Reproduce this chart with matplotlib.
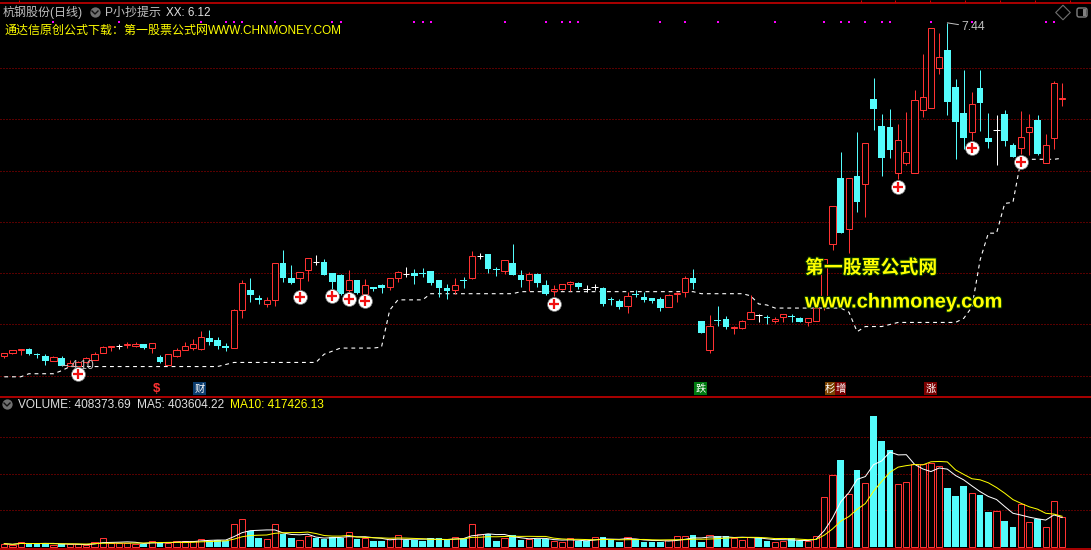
import matplotlib
matplotlib.use('Agg')
import matplotlib.pyplot as plt
import matplotlib.patheffects as pe
from matplotlib.patches import Rectangle, FancyBboxPatch
import numpy as np
import pandas as pd

plt.rcParams['font.family'] = ['Liberation Sans', 'Noto Sans CJK SC', 'DejaVu Sans']

# daily candles
open_p = [4.19,4.22,4.25,4.26,4.21,4.19,4.14,4.17,4.10,4.10,
          4.13,4.15,4.22,4.28,4.29,4.30,4.29,4.31,4.27,4.18,
          4.11,4.19,4.25,4.27,4.26,4.37,4.35,4.29,4.27,4.64,
          4.84,4.76,4.70,4.74,5.10,4.95,4.95,5.03,5.11,5.11,
          5.00,4.98,4.84,4.93,4.80,4.87,4.88,4.87,4.95,4.99,
          5.00,5.00,5.02,4.93,4.86,4.84,4.93,4.95,5.17,5.19,
          5.04,5.02,5.10,4.98,4.93,4.99,4.88,4.83,4.85,4.89,
          4.90,4.85,4.87,4.86,4.75,4.73,4.68,4.80,4.77,4.76,
          4.75,4.67,4.80,4.82,4.95,4.53,4.25,4.54,4.55,4.47,
          4.47,4.55,4.59,4.57,4.53,4.57,4.58,4.56,4.52,4.53,
          4.72,5.28,5.93,5.43,5.95,5.87,6.70,6.43,6.42,5.98,
          6.07,5.98,6.59,6.61,7.00,7.18,6.81,6.56,6.38,6.80,
          6.32,6.40,6.55,6.25,6.22,6.38,6.49,6.07,6.32,6.70]
close_p = [4.22,4.25,4.26,4.21,4.20,4.14,4.18,4.10,4.12,4.13,
           4.17,4.21,4.28,4.29,4.29,4.31,4.31,4.27,4.32,4.13,
           4.21,4.25,4.29,4.31,4.38,4.33,4.29,4.27,4.64,4.90,
           4.79,4.74,4.74,5.10,4.95,4.90,5.01,5.15,5.11,4.98,
           4.91,4.80,4.93,4.81,4.88,4.85,4.86,4.95,5.01,4.99,
           4.97,4.99,4.90,4.86,4.83,4.88,4.92,5.17,5.17,5.04,
           5.03,5.13,4.98,4.93,4.99,4.90,4.80,4.85,4.89,4.91,
           4.87,4.85,4.87,4.70,4.74,4.67,4.78,4.79,4.74,4.73,
           4.66,4.79,4.81,4.95,4.90,4.42,4.49,4.53,4.48,4.48,
           4.53,4.62,4.59,4.56,4.55,4.60,4.57,4.52,4.56,4.66,
           5.14,5.65,5.39,5.93,5.69,6.27,6.60,6.12,6.20,6.30,
           6.18,6.69,6.72,7.39,7.11,6.67,6.47,6.32,6.65,6.66,
           6.28,6.40,6.29,6.13,6.33,6.42,6.16,6.25,6.85,6.71]
high_p = [4.22,4.25,4.26,4.27,4.22,4.21,4.19,4.19,4.15,4.14,
          4.18,4.23,4.29,4.29,4.31,4.33,4.33,4.31,4.32,4.20,
          4.21,4.27,4.33,4.36,4.44,4.45,4.38,4.32,4.65,4.93,
          4.95,4.79,4.77,5.10,5.23,5.08,5.01,5.15,5.18,5.14,
          5.00,4.99,5.03,4.93,4.94,4.87,4.89,4.95,5.02,5.06,
          5.04,5.05,5.02,4.93,4.89,4.95,4.96,5.22,5.20,5.19,
          5.06,5.13,5.28,5.03,5.01,5.00,4.93,4.88,4.89,4.92,
          4.91,4.88,4.89,4.87,4.77,4.75,4.82,4.84,4.82,4.76,
          4.77,4.80,4.82,4.97,5.04,4.53,4.59,4.68,4.58,4.49,
          4.54,4.79,4.60,4.59,4.57,4.60,4.60,4.57,4.56,4.66,
          5.14,5.65,6.18,5.93,6.38,6.27,6.90,6.55,6.60,6.45,
          6.57,6.79,7.14,7.39,7.34,7.44,6.89,6.98,6.77,6.98,
          6.56,6.54,6.59,6.27,6.58,6.55,6.54,6.36,6.87,6.85]
low_p = [4.17,4.21,4.20,4.20,4.17,4.11,4.14,4.10,4.10,4.10,
         4.12,4.15,4.22,4.24,4.26,4.27,4.28,4.26,4.22,4.12,
         4.11,4.18,4.25,4.25,4.25,4.30,4.26,4.24,4.27,4.56,
         4.72,4.70,4.67,4.68,4.91,4.89,4.84,4.92,5.08,4.98,
         4.85,4.79,4.80,4.80,4.77,4.83,4.81,4.84,4.91,4.96,
         4.89,4.96,4.88,4.77,4.75,4.80,4.86,4.94,5.14,5.00,
         4.97,4.99,4.98,4.87,4.83,4.87,4.79,4.78,4.84,4.83,
         4.85,4.82,4.84,4.68,4.69,4.65,4.61,4.77,4.72,4.71,
         4.63,4.67,4.72,4.77,4.85,4.42,4.22,4.49,4.46,4.41,
         4.46,4.55,4.52,4.50,4.51,4.52,4.52,4.52,4.49,4.53,
         4.64,5.23,5.39,5.20,5.60,5.55,6.40,5.95,6.12,5.92,
         6.05,5.98,6.52,6.61,6.94,6.54,6.11,6.21,6.30,6.39,
         6.22,6.05,6.24,6.13,6.16,6.15,6.15,6.07,6.21,6.63]

# the dashed XX indicator
xx_line = [3.99,3.99,3.99,4.02,4.02,4.02,4.02,4.05,4.09,4.09,
           4.09,4.09,4.09,4.09,4.09,4.09,4.09,4.09,4.09,4.09,
           4.09,4.09,4.09,4.09,4.09,4.09,4.09,4.11,4.13,4.13,
           4.13,4.13,4.13,4.13,4.13,4.13,4.13,4.13,4.13,4.21,
           4.24,4.27,4.27,4.27,4.27,4.27,4.28,4.64,4.74,4.74,
           4.74,4.74,4.80,4.80,4.80,4.80,4.80,4.80,4.80,4.80,
           4.80,4.80,4.80,4.82,4.82,4.82,4.82,4.82,4.82,4.82,
           4.82,4.82,4.82,4.82,4.82,4.82,4.82,4.82,4.82,4.82,
           4.82,4.82,4.82,4.82,4.82,4.80,4.80,4.80,4.80,4.80,
           4.80,4.78,4.70,4.69,4.66,4.66,4.66,4.66,4.66,4.66,
           4.66,4.66,4.66,4.62,4.43,4.48,4.48,4.48,4.50,4.52,
           4.52,4.52,4.52,4.52,4.52,4.52,4.52,4.56,4.67,5.13,
           5.39,5.39,5.68,5.69,6.11,6.11,6.11,6.11,6.11,6.12]

# volume, in thousands
volume = [46,27,73,46,46,55,27,36,36,36,
          27,73,128,50,50,50,46,46,87,59,
          55,78,87,87,114,87,100,87,320,388,
          224,123,114,320,183,119,100,155,123,114,
          142,123,210,105,123,78,78,105,160,96,
          96,82,119,119,96,132,110,311,174,174,
          82,119,160,96,105,114,114,78,64,119,
          87,78,132,137,105,73,132,105,69,69,
          69,96,146,146,164,69,160,151,151,119,
          91,132,132,87,64,87,119,87,87,151,
          680,982,1192,722,1055,872,1795,1452,1329,859,
          886,1137,1137,1146,1105,808,699,836,735,712,
          480,489,356,274,585,338,379,269,626,408.37]

# doji days whose volume bar is drawn red
red_doji_days = [14, 58, 72, 121]
# magenta dots along the top, and days with a plus signal
dot_days = [6,14,24,27,28,29,33,40,41,50,51,52,61,66,68,69,70,80,83,87,94,
            100,102,103,105,107,108,113,118,127,128]
plus_days = [9, 36, 40, 42, 44, 67, 109, 118, 124]
plus_price = [4.02, 4.77, 4.78, 4.75, 4.73, 4.70, 5.84, 6.22, 6.08]

price_grid = [4.0, 4.5, 5.0, 5.5, 6.0, 6.5, 7.0]
volume_grid = [500, 1000, 1500]

RED = '#FF3232'
CYAN = '#54FCFC'
GRID = '#B00000'
BORDER = '#D00000'
GREY = '#C0C0C0'
YELLOW = '#FFFF00'
BG = '#000000'
PX = 0.72  # one pixel in points at dpi 100

x = np.arange(len(close_p))
open_a, close_a = np.array(open_p), np.array(close_p)
high_a, low_a = np.array(high_p), np.array(low_p)
up = close_a > open_a
down = close_a < open_a
doji = close_a == open_a
colors = np.where(up, RED, np.where(down, CYAN, '#FFFFFF'))

fig = plt.figure(figsize=(10.91, 5.5), dpi=100, facecolor=BG)
price_ax = fig.add_axes([0, 154 / 550, 1, 394 / 550], facecolor=BG)
vol_ax = fig.add_axes([0, 0, 1, 154 / 550], facecolor=BG)
top_ax = fig.add_axes([0, 0, 1, 1], facecolor='none')  # texts and icons, in pixels
top_ax.set_xlim(0, 1091)
top_ax.set_ylim(550, 0)
top_ax.axis('off')

xlim = (-0.524, 132.52)
price_ax.set_xlim(xlim)
price_ax.set_ylim(3.803, 7.643)
vol_ax.set_xlim(xlim)
vol_ax.set_ylim(-41, 2068)
for ax in (price_ax, vol_ax):
    ax.set_xticks([])
    ax.set_yticks([])
    for s in ax.spines.values():
        s.set_visible(False)

# price panel
for level in price_grid:
    price_ax.plot(xlim, [level, level], color=GRID, lw=PX, linestyle=(0, (1, 2)), zorder=1)
price_ax.plot(x, xx_line, color='white', lw=PX * 1.1, linestyle=(0, (3.5, 3.5)), zorder=2)
price_ax.vlines(x, low_a, high_a, colors=colors, lw=PX, zorder=3)
price_ax.bar(x[up], (close_a - open_a)[up], bottom=open_a[up], width=0.76, facecolor=BG,
             edgecolor=RED, linewidth=PX, zorder=4)
price_ax.bar(x[down], (open_a - close_a)[down], bottom=close_a[down], width=0.8, color=CYAN,
             linewidth=0, zorder=4)
price_ax.hlines(close_a[doji], x[doji] - 0.4, x[doji] + 0.4, colors='white', lw=PX, zorder=4)
price_ax.scatter(dot_days, [7.45] * len(dot_days), marker='s', s=4.5, color='#FF00FF', linewidths=0, zorder=5)

# plus signals
price_ax.scatter(plus_days, plus_price, s=100, color='white', edgecolors='#707070', linewidths=0.5, zorder=6)
price_ax.scatter(plus_days, plus_price, s=50, marker='+', color='#F01010', linewidths=1.6, zorder=7)

# high and low labels
hi = int(np.argmax(high_a))
price_ax.annotate('%.2f' % high_a[hi], xy=(hi, high_a[hi]), xytext=(hi + 1.7, high_a[hi] - 0.04),
                  color=GREY, fontsize=8.8, va='center', zorder=8,
                  arrowprops=dict(arrowstyle='-', color=GREY, lw=PX, shrinkA=0, shrinkB=0))
lo = int(np.argmin(low_a))
price_ax.annotate('%.2f' % low_a[lo], xy=(lo, low_a[lo]), xytext=(lo + 1.1, low_a[lo]),
                  color=GREY, fontsize=8.8, va='center', zorder=5,
                  arrowprops=dict(arrowstyle='-', color=GREY, lw=PX, shrinkA=0, shrinkB=0))

# volume panel
vol = np.array(volume)
vol_red = up.copy()
vol_red[red_doji_days] = True
for level in volume_grid:
    vol_ax.plot(xlim, [level, level], color=GRID, lw=PX, linestyle=(0, (1, 2)), zorder=1)
vol_ax.bar(x[~vol_red], vol[~vol_red], width=0.8, color=CYAN, linewidth=0, zorder=2)
vol_ax.bar(x[vol_red], vol[vol_red], width=0.76, facecolor=BG, edgecolor=RED, linewidth=PX, zorder=3)
ma5 = pd.Series(vol).rolling(5, min_periods=1).mean()
ma10 = pd.Series(vol).rolling(10, min_periods=1).mean()
vol_ax.plot(x, ma5, color='white', lw=PX, zorder=4)
vol_ax.plot(x, ma10, color=YELLOW, lw=PX, zorder=5)

# frame lines
top_ax.hlines([2.5, 396.5, 548.5], 0, 1091, colors=BORDER, lw=PX * 1.6)
top_ax.vlines([861, 895, 930, 965, 1000, 1035, 1070, 19], 0, 2, colors=BORDER, lw=PX)

# header texts
top_ax.text(3, 12.5, '杭钢股份(日线)', color=GREY, fontsize=8.64, va='center')
top_ax.text(105, 12.5, 'P小抄提示', color=GREY, fontsize=8.64, va='center')
top_ax.text(166, 12.5, 'XX: 6.12', color='#E0E0E0', fontsize=8.4, va='center')
top_ax.text(4, 30.5, '通达信原创公式下载：第一股票公式网', color=YELLOW, fontsize=8.64, va='center')
top_ax.text(208, 30.5, 'WWW.CHNMONEY.COM', color=YELLOW, fontsize=8.45, va='center')
top_ax.text(18, 405, 'VOLUME: 408373.69', color='#E0E0E0', fontsize=8.6, va='center')
top_ax.text(137, 405, 'MA5: 403604.22', color='#E0E0E0', fontsize=8.6, va='center')
top_ax.text(230, 405, 'MA10: 417426.13', color=YELLOW, fontsize=8.6, va='center')

# round buttons with a chevron
for cx, cy in [(95, 12), (7, 404)]:
    top_ax.scatter([cx], [cy], s=55, color='#707070', linewidths=0)
    top_ax.plot([cx - 3, cx, cx + 3], [cy - 1, cy + 2, cy - 1], color='#111111', lw=1)

# icons in the top right corner
top_ax.scatter([1063], [12.5], marker='D', s=55, facecolors='none', edgecolors='#707070', linewidths=0.8)
top_ax.add_patch(FancyBboxPatch((1077, 8), 10, 9, boxstyle='round,pad=0,rounding_size=2', facecolor='none',
                                edgecolor='#808080', linewidth=1))
top_ax.add_patch(Rectangle((1083, 9), 3, 7, color='#808080', linewidth=0))

# signal tags above the volume panel
top_ax.text(156.5, 389, '$', color=RED, fontsize=9.5, fontweight='bold', ha='center', va='center')
for left, width, color, label in [(193, 13, '#0B3C6E', '财'), (694, 13, '#007A10', '跌'),
                                  (825, 10, '#7A4200', '杉'), (835, 11, '#7A0000', '增'),
                                  (924, 13, '#7A0000', '涨')]:
    top_ax.add_patch(Rectangle((left, 382), width, 13, color=color, linewidth=0))
    top_ax.text(left + width / 2, 388.5, label, color='white', fontsize=7.4, ha='center', va='center')

# watermark
shadow = [pe.withStroke(linewidth=1.5, foreground='#003000')]
top_ax.text(805, 268, '第一股票公式网', color=YELLOW, fontsize=13.6, fontweight='bold',
            family='Noto Sans CJK SC', va='center', path_effects=shadow)
top_ax.text(805, 302, 'www.chnmoney.com', color=YELLOW, fontsize=14.45, fontweight='bold',
            family='Liberation Sans', va='center', path_effects=shadow)

fig.savefig('out.png', dpi=100, facecolor=BG)
